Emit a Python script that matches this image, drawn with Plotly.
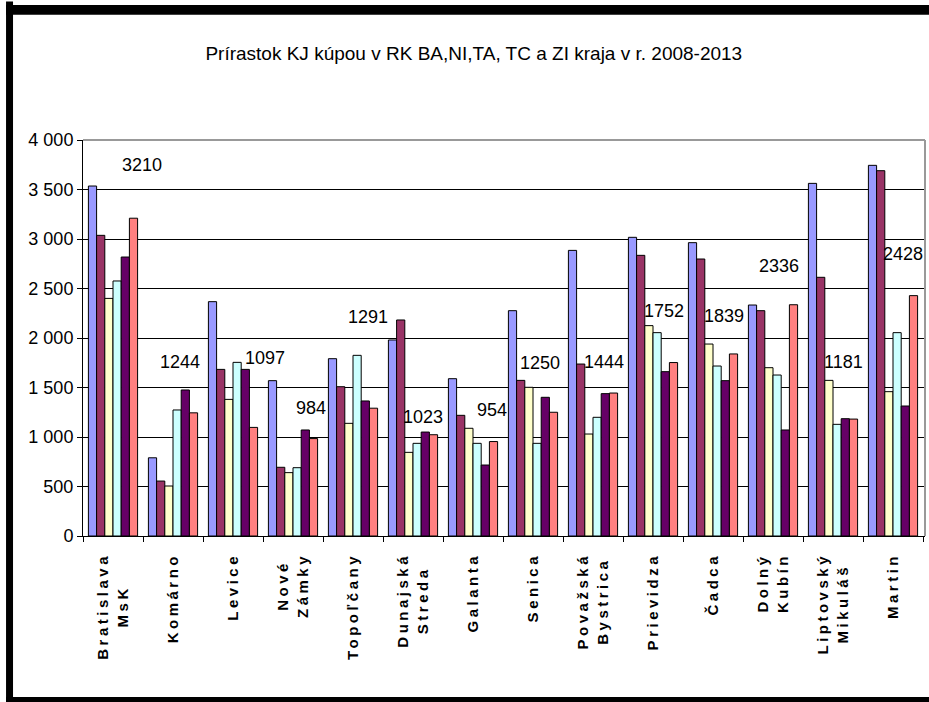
import plotly.graph_objects as go

# data
okresy = ["Bratislava<br>MsK", "Komárno", "Levice", "Nové<br>Zámky", "Topoľčany",
          "Dunajská<br>Streda", "Galanta", "Senica", "Považská<br>Bystrica", "Prievidza",
          "Čadca", "Dolný<br>Kubín", "Liptovský<br>Mikuláš", "Martin"]
roky = ["2008", "2009", "2010", "2011", "2012", "2013"]

y2008 = [3535, 790, 2367, 1569, 1791, 1980, 1589, 2276, 2885, 3017, 2963, 2333, 3562, 3744]
y2009 = [3037, 555, 1683, 694, 1508, 2182, 1219, 1572, 1737, 2835, 2798, 2276, 2613, 3690]
y2010 = [2400, 505, 1380, 640, 1138, 845, 1088, 1502, 1030, 2125, 1939, 1700, 1572, 1458]
y2011 = [2576, 1273, 1754, 690, 1825, 936, 936, 936, 1199, 2054, 1717, 1626, 1128, 2054]
y2012 = [2818, 1475, 1683, 1071, 1364, 1050, 717, 1401, 1438, 1660, 1569, 1071, 1185, 1313]
y2013 = [3210, 1244, 1097, 984, 1291, 1023, 954, 1250, 1444, 1752, 1839, 2336, 1181, 2428]

# label offsets in px (right, up) for the 2013 value labels
label_dx = [29, 7, 32, 18, 15, 10, 19, 7, 11, 11, 11, 6, 10, 10]
label_dy = [53, 51, 69, 31, 91, 18, 32, 49, 31, 52, 38, 39, 57, 42]

farby = ["#9999FF", "#993366", "#FFFFCC", "#CCFFFF", "#660066", "#FF8080"]
serie = [y2008, y2009, y2010, y2011, y2012, y2013]

font = "Liberation Sans, Arial, sans-serif"

fig = go.Figure()
for rok, hodnoty, farba in zip(roky, serie, farby):
    fig.add_trace(go.Bar(x=okresy, y=hodnoty, name=rok,
                         marker=dict(color=farba, line=dict(color="black", width=1))))

for kat, v, dx, dy in zip(okresy, y2013, label_dx, label_dy):
    fig.add_annotation(x=kat, y=v, text=str(v), showarrow=False,
                       xshift=dx, yshift=dy,
                       font=dict(family=font, size=18, color="black"))

# black frame around the picture
ramik = [(-0.0914, -0.0831, -0.42, 1.35),     # left
         (-0.0914, 1.01, 1.316, 1.341),       # top
         (-0.0914, 1.01, -0.42, -0.4066)]     # bottom
for x0, x1, y0, y1 in ramik:
    fig.add_shape(type="rect", xref="paper", yref="paper", x0=x0, x1=x1, y0=y0, y1=y1,
                  fillcolor="black", line=dict(width=0), layer="above")

fig.update_layout(
    width=929, height=702,
    margin=dict(l=83, r=4, t=140, b=166),
    paper_bgcolor="white", plot_bgcolor="white",
    barmode="group", bargap=0.18, bargroupgap=0,
    showlegend=False,
    separators=", ",
    title=dict(text="Prírastok KJ kúpou v RK BA,NI,TA, TC a ZI kraja v r. 2008-2013",
               x=0.51, xanchor="center", y=0.924, yanchor="middle",
               font=dict(family=font, size=19, color="black")),
    xaxis=dict(tickangle=-90, ticks="outside", ticklen=5, tickcolor="black",
               tickson="boundaries", showline=True, linecolor="black", linewidth=1,
               mirror=False, showgrid=False, ticklabelstandoff=10,
               tickfont=dict(family=font, size=15, color="black", weight="bold")),
    yaxis=dict(range=[0, 4000], dtick=500, tickformat=",d",
               ticks="outside", ticklen=5, tickcolor="black",
               showline=True, linecolor="black", linewidth=1,
               showgrid=True, gridcolor="black", gridwidth=1, zeroline=False,
               tickfont=dict(family=font, size=18, color="black")),
)

# gray frame on top and right of the plot area
fig.add_shape(type="line", xref="paper", yref="paper", x0=0, x1=1, y0=1, y1=1,
              line=dict(color="#999999", width=2))
fig.add_shape(type="line", xref="paper", yref="paper", x0=1, x1=1, y0=0, y1=1,
              line=dict(color="#999999", width=2))

# wider letter spacing and centred lines for the category labels
post = """
document.body.style.margin = '0';
document.body.style.overflow = 'hidden';
document.querySelectorAll('.xtick text').forEach(function(t){
  t.style.letterSpacing = '3.5px';
  var lines = t.querySelectorAll('tspan.line');
  if (lines.length < 2) return;
  var L = 0;
  lines.forEach(function(s){ L = Math.max(L, s.getComputedTextLength()); });
  var x0 = parseFloat(t.getAttribute('x'));
  t.setAttribute('text-anchor', 'middle');
  lines.forEach(function(s){ s.setAttribute('x', x0 - L / 2); });
});
"""
fig.write_html("out.html", post_script=post, config={"displayModeBar": False})
